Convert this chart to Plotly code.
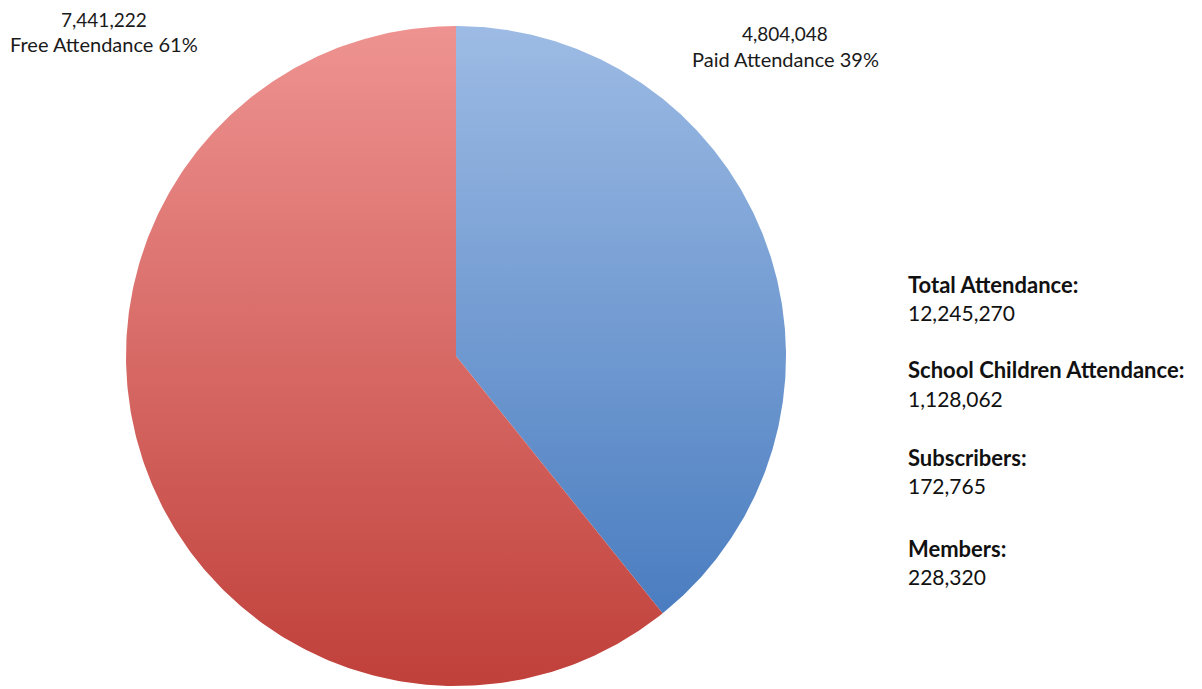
import numpy as np
import plotly.graph_objects as go

# ---- data ----
slice_labels = ["Paid Attendance", "Free Attendance"]
slice_values = [4804048, 7441222]
slice_top_colors = ["#9dbbe4", "#ee9391"]
slice_bottom_colors = ["#4a7dc0", "#c0403a"]

stat_labels = ["Total Attendance:", "School Children Attendance:", "Subscribers:", "Members:"]
stat_values = ["12,245,270", "1,128,062", "172,765", "228,320"]

# ---- layout geometry (pixel space) ----
W, H = 1202, 689
OFF = 8  # page body margin
CX, CY, R = 456, 356, 330
FONT = "Lato"

fig = go.Figure()
total = sum(slice_values)
start_frac = 0.0
label_pos = [(785, 33, 59), (104, 19, 44)]
for i, (lab, val) in enumerate(zip(slice_labels, slice_values)):
    frac = val / total
    th = np.linspace(start_frac, start_frac + frac, 300) * 2 * np.pi
    xs = np.concatenate([[CX], CX + R * np.sin(th), [CX]])
    ys = np.concatenate([[CY], CY - R * np.cos(th), [CY]])
    ytop, ybot = ys.min(), ys.max()
    fig.add_trace(go.Scatter(
        x=xs, y=ys, mode="lines", fill="toself",
        line=dict(width=0, color="rgba(0,0,0,0)"),
        fillgradient=dict(type="vertical", start=ytop, stop=ybot,
                          colorscale=[[0, slice_top_colors[i]], [1, slice_bottom_colors[i]]]),
        hoverinfo="skip", showlegend=False,
    ))
    start_frac += frac
    lx, y1, y2 = label_pos[i]
    pct = round(frac * 100)
    fig.add_annotation(x=lx, y=y1, text=f"{val:,}", showarrow=False, borderpad=0,
                       font=dict(family=FONT, size=19, color="#1a1a1a"), xanchor="center", yanchor="middle")
    fig.add_annotation(x=lx, y=y2, text=f"{lab} {pct}%", showarrow=False, borderpad=0,
                       font=dict(family=FONT, size=20, color="#1a1a1a"), xanchor="center", yanchor="middle")

stat_y = [(284, 312), (369, 398), (457, 485), (548, 576)]
for (lab, val), (ya, yb) in zip(zip(stat_labels, stat_values), stat_y):
    fig.add_annotation(x=906, y=ya, text=f"<b>{lab}</b>", showarrow=False,
                       font=dict(family=FONT, size=22, color="#111111"), xanchor="left", yanchor="middle")
    fig.add_annotation(x=906, y=yb, text=val, showarrow=False,
                       font=dict(family=FONT, size=21, color="#111111"), xanchor="left", yanchor="middle")

fig.update_layout(
    width=W, height=H, margin=dict(l=0, r=0, t=0, b=0),
    paper_bgcolor="white", plot_bgcolor="white",
    xaxis=dict(range=[OFF, W + OFF], visible=False, fixedrange=True),
    yaxis=dict(range=[H + OFF, OFF], visible=False, fixedrange=True),
    showlegend=False,
)
fig.write_html("out.html")
